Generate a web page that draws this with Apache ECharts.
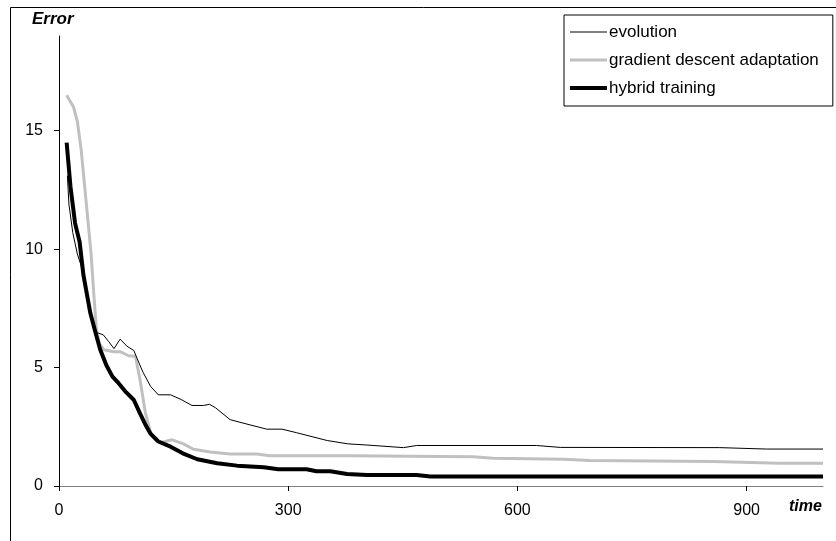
<!DOCTYPE html>
<html>
<head>
<meta charset="utf-8">
<script src="https://cdn.jsdelivr.net/npm/echarts@6/dist/echarts.min.js"></script>
<style>
  html, body { margin: 0; padding: 0; background: #fff; }
  #chart { width: 836px; height: 541px; }
</style>
</head>
<body>
<div id="chart"></div>
<script>
// time, error pairs
const evolution = [
  [11, 13.1], [13, 11.9], [18, 10.7], [24, 9.8], [30, 9.2], [36, 8.1], [42, 7.2], [48, 6.5],
  [52, 6.45], [58, 6.38], [65, 6.1], [72, 5.8], [80, 6.2], [89, 5.9], [98, 5.72], [102, 5.4],
  [110, 4.8], [120, 4.2], [130, 3.85], [146, 3.85], [160, 3.65], [174, 3.4], [189, 3.4],
  [197, 3.45], [205, 3.3], [224, 2.8], [250, 2.58], [272, 2.4], [292, 2.4], [311, 2.25],
  [351, 1.92], [378, 1.78], [403, 1.73], [451, 1.62], [468, 1.71], [625, 1.71], [656, 1.63],
  [865, 1.62], [926, 1.56], [1000, 1.56]
];
const gradient = [
  [10, 16.5], [19, 16.0], [24, 15.4], [29, 14.2], [37, 11.5], [42, 9.8], [46, 7.9], [49, 6.6],
  [53, 6.0], [59, 5.75], [72, 5.67], [80, 5.67], [91, 5.5], [100, 5.48], [106, 4.5], [113, 3.1],
  [120, 2.25], [128, 1.9], [135, 1.85], [148, 1.95], [163, 1.78], [176, 1.55], [198, 1.44],
  [224, 1.35], [259, 1.35], [276, 1.28], [381, 1.28], [542, 1.24], [568, 1.17], [660, 1.13],
  [695, 1.08], [856, 1.03], [943, 0.96], [1000, 0.96]
];
const hybrid = [
  [10, 14.5], [15, 12.65], [21, 11.1], [27, 10.3], [32, 8.9], [41, 7.3], [48, 6.45], [54, 5.75],
  [62, 5.1], [70, 4.62], [78, 4.34], [88, 3.95], [98, 3.63], [106, 3.07], [113, 2.6], [120, 2.2],
  [130, 1.88], [146, 1.66], [162, 1.38], [181, 1.13], [207, 0.96], [233, 0.86], [268, 0.79],
  [287, 0.71], [324, 0.71], [337, 0.62], [355, 0.62], [377, 0.51], [403, 0.46], [468, 0.46],
  [486, 0.4], [1000, 0.4]
];
const xTicks = [0, 300, 600, 900];
const yTicks = [0, 5, 10, 15];
const seriesNames = ['evolution', 'gradient descent adaptation', 'hybrid training'];

const font = 'Liberation Sans, Arial, sans-serif';

// plain line icons for the legend (tiny corner dots keep the box 37x14)
function lineIcon(w) {
  const y = 7 - w / 2;
  return 'path://M0,0h0.01v0.01h-0.01z M0,' + y + 'h37v' + w + 'h-37z M36.99,13.99h0.01v0.01h-0.01z';
}

const chart = echarts.init(document.getElementById('chart'));

chart.setOption({
  animation: false,
  textStyle: { fontFamily: font },
  grid: { left: 59, top: 36, right: 13, bottom: 55 },
  legend: {
    orient: 'vertical',
    left: 564,
    top: 15,
    padding: [7, 14, 8, 6],
    itemWidth: 37,
    itemHeight: 14,
    itemGap: 8,
    borderColor: '#000',
    borderWidth: 1,
    textStyle: { fontFamily: font, fontSize: 17, color: '#000', lineHeight: 20, padding: [0, 0, 0, -3] },
    data: [
      { name: seriesNames[0], icon: lineIcon(1) },
      { name: seriesNames[1], icon: lineIcon(3) },
      { name: seriesNames[2], icon: lineIcon(4) }
    ]
  },
  graphic: [
    {
      type: 'rect', left: 8, top: 5, silent: true,
      shape: { width: 900, height: 600 },
      style: { fill: 'none', stroke: '#000', lineWidth: 1 }
    },
    {
      type: 'text', left: 32, top: 11,
      style: { text: 'Error', font: 'italic bold 17px ' + font, fill: '#000' }
    },
    {
      type: 'text', left: 789, top: 499,
      style: { text: 'time', font: 'italic bold 16px ' + font, fill: '#000' }
    }
  ],
  xAxis: {
    type: 'value',
    min: 0,
    max: 1000,
    splitLine: { show: false },
    axisLine: { lineStyle: { color: '#808080', width: 1 } },
    axisTick: { customValues: xTicks, length: 5, lineStyle: { color: '#000' } },
    axisLabel: { customValues: xTicks, margin: 17, fontSize: 16, color: '#000', fontFamily: font }
  },
  yAxis: {
    type: 'value',
    min: 0,
    max: 19,
    splitLine: { show: false },
    axisLine: { show: true, lineStyle: { color: '#000', width: 1 } },
    axisTick: { show: true, customValues: yTicks, length: 5, lineStyle: { color: '#000' } },
    axisLabel: { customValues: yTicks, margin: 16, fontSize: 16, color: '#000', fontFamily: font }
  },
  series: [
    {
      name: seriesNames[0], type: 'line', data: evolution, symbol: 'none', z: 4,
      lineStyle: { color: '#000', width: 1 }, itemStyle: { color: '#000' }
    },
    {
      name: seriesNames[1], type: 'line', data: gradient, symbol: 'none', z: 2,
      lineStyle: { color: '#c0c0c0', width: 3 }, itemStyle: { color: '#c0c0c0' }
    },
    {
      name: seriesNames[2], type: 'line', data: hybrid, symbol: 'none', z: 3,
      lineStyle: { color: '#000', width: 4 }, itemStyle: { color: '#000' }
    }
  ]
});
</script>
</body>
</html>
